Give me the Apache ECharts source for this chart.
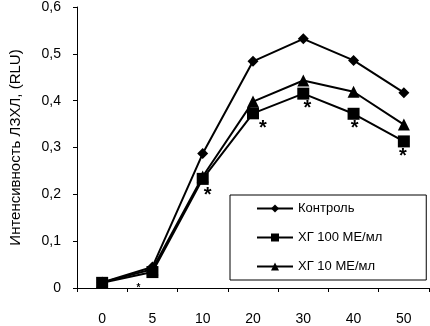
<!DOCTYPE html>
<html><head><meta charset="utf-8">
<script src="https://cdn.jsdelivr.net/npm/echarts@6/dist/echarts.min.js"></script>
<style>html,body{margin:0;padding:0;background:#fff}#c{width:430px;height:326px}</style>
</head><body><div id="c"></div>
<script>
var categories = ['0', '5', '10', '20', '30', '40', '50'];
var control = [0.012, 0.045, 0.287, 0.484, 0.532, 0.486, 0.417];
var hg100 = [0.011, 0.034, 0.233, 0.373, 0.415, 0.372, 0.313];
var hg10 = [0.012, 0.040, 0.238, 0.398, 0.443, 0.419, 0.349];
var sigMarks = ['', '*', '*', '*', '*', '*', '*'];
var seriesNames = ['Контроль', 'ХГ 100 МЕ/мл', 'ХГ 10 МЕ/мл'];
var yTicks = ['0', '0,1', '0,2', '0,3', '0,4', '0,5', '0,6'];

var font = 'Liberation Sans, Arial, sans-serif';
var sigStyle = [
  null,
  {fontSize: 10, offset: [-14, 0]},
  {fontSize: 20, offset: [5, -4]},
  {fontSize: 20, offset: [10, -6]},
  {fontSize: 20, offset: [4, -6]},
  {fontSize: 20, offset: [1, -6]},
  {fontSize: 20, offset: [-1, -6]}
];
var hg100Data = hg100.map(function (v, i) {
  var d = {value: v};
  if (sigMarks[i]) {
    d.label = {show: true, formatter: sigMarks[i], position: 'bottom', color: '#000',
      fontFamily: font, fontWeight: 'bold', fontSize: sigStyle[i].fontSize, offset: sigStyle[i].offset};
  }
  return d;
});

var chart = echarts.init(document.getElementById('c'), null, {renderer: 'canvas'});
var lineStyle = {color: '#000', width: 2};
chart.setOption({
  animation: false,
  backgroundColor: '#fff',
  grid: {left: 68, right: 1, top: 6, bottom: 34, containLabel: false},
  legend: {
    orient: 'vertical',
    left: 230, top: 195,
    padding: [7, 44, 7, 26],
    itemGap: 16,
    itemWidth: 36, itemHeight: 10,
    borderColor: '#000', borderWidth: 1,
    textStyle: {fontFamily: font, fontSize: 13, color: '#000'},
    data: seriesNames
  },
  xAxis: {
    type: 'category',
    data: categories,
    boundaryGap: true,
    axisLine: {lineStyle: {color: '#000', width: 1}},
    axisTick: {show: true, length: 4, lineStyle: {color: '#000'}},
    axisLabel: {color: '#000', fontFamily: font, fontSize: 14, margin: 24}
  },
  yAxis: {
    type: 'value',
    min: 0, max: 0.6, interval: 0.1,
    name: 'Интенсивность ЛЗХЛ, (RLU)',
    nameLocation: 'middle',
    nameGap: 54,
    nameTextStyle: {color: '#000', fontFamily: font, fontSize: 15},
    axisLine: {show: true, lineStyle: {color: '#000', width: 1}},
    axisTick: {show: true, length: 4, lineStyle: {color: '#000'}},
    splitLine: {show: false},
    axisLabel: {color: '#000', fontFamily: font, fontSize: 14, margin: 16,
      formatter: function (v) { return yTicks[Math.round(v * 10)]; }}
  },
  series: [
    {name: seriesNames[0], type: 'line', data: control, symbol: 'diamond', symbolSize: 11,
      itemStyle: {color: '#000'}, lineStyle: lineStyle, z: 3},
    {name: seriesNames[1], type: 'line', data: hg100Data, symbol: 'rect', symbolSize: 12,
      itemStyle: {color: '#000'}, lineStyle: lineStyle, z: 2},
    {name: seriesNames[2], type: 'line', data: hg10, symbol: 'triangle', symbolSize: 12,
      itemStyle: {color: '#000'}, lineStyle: lineStyle, z: 2}
  ]
});
</script></body></html>
